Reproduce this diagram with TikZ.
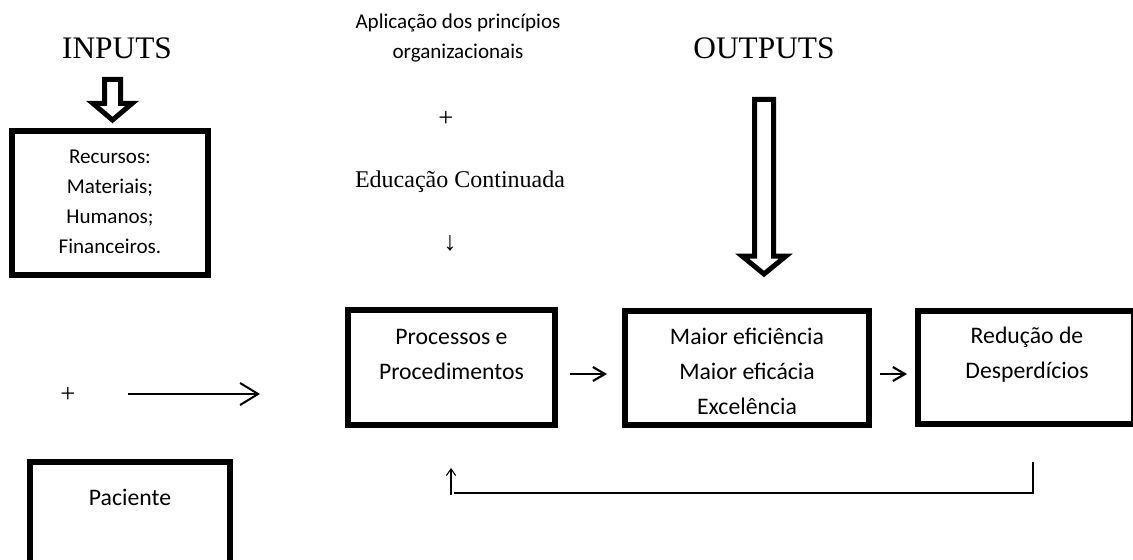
\documentclass[tikz,border=0pt]{standalone}
\usepackage{fontspec}
\setmainfont{Liberation Serif}
\setsansfont{Carlito}
\usetikzlibrary{arrows.meta,calc,positioning}

\tikzset{
  box/.style={draw, line width=4.5pt, inner sep=0pt},
  boxtext/.style={font={\sffamily\fontsize{17.8}{26.25}\selectfont}, align=center, inner sep=0pt},
  smalltext/.style={font={\sffamily\fontsize{15.8}{22.5}\selectfont}, align=center, inner sep=0pt},
  heading/.style={font={\fontsize{23.5}{28}\selectfont}, inner sep=0pt},
  serifnote/.style={font={\fontsize{18}{22}\selectfont}, inner sep=0pt},
  hollow/.style={draw, line width=3.75pt, line join=miter, fill=white},
  flow/.style={line width=1.6pt, -{Straight Barb[length=9pt, width=10.5pt, line width=1.6pt]}},
  longflow/.style={line width=1.5pt, -{Straight Barb[length=13.5pt, width=16.5pt, line width=1.5pt]}},
  fback/.style={line width=1.4pt},
  upflow/.style={line width=0.8pt, -{Straight Barb[length=5pt, width=7pt, line width=0.8pt]}}
}

\begin{document}
\begin{tikzpicture}[x=0.75pt, y=-0.75pt]
  \useasboundingbox (0,0) rectangle (1133,560);

  % Headings
  \node[heading] (inputs) at (117,48) {INPUTS};
  \node[heading] (outputs) at (764,48) {OUTPUTS};

  % Middle column
  \node[smalltext] (principios) at (458,38) {Aplicação dos princípios\\organizacionais};
  \node[serifnote, font={\fontsize{20}{24}\selectfont}] (plusa) at (446,119) {+};
  \node[serifnote] (educacao) at (460,182) {Educação Continuada};
  \node[serifnote, font={\fontsize{20}{24}\selectfont}] (seta) at (450,243) {↓};
  \node[serifnote, font={\fontsize{20}{24}\selectfont}] (plusb) at (68,395) {+};

  % Boxes
  \node[box, minimum width=147pt, minimum height=108pt] (recursos) at (110,203) {};
  \node[box, minimum width=150pt, minimum height=75.4pt] (paciente) at (130,512.25) {};
  \node[box, minimum width=155.25pt, minimum height=86.25pt] (proc) at (451.5,367.5) {};
  \node[box, minimum width=183pt, minimum height=85.5pt] (maior) at (747,368) {};
  \node[box, minimum width=162pt, minimum height=84.75pt] (reducao) at (1026,367.5) {};

  % Box texts
  \node[smalltext] (recursostxt) at (110,202) {Recursos:\\Materiais;\\Humanos;\\Financeiros.};
  \node[boxtext] (pacientetxt) at (130,497) {Paciente};
  \node[boxtext] (proctxt) at (451.5,354.5) {Processos e\\Procedimentos};
  \node[boxtext] (maiortxt) at (747,371) {Maior eficiência\\Maior eficácia\\Excelência};
  \node[boxtext] (reducaotxt) at (1027,354.5) {Redução de\\Desperdícios};

  % Hollow arrows
  \draw[hollow] (104.5,79.5) -- (120.5,79.5) -- (120.5,103.5) -- (132,103.5)
    -- (112.5,120) -- (93,103.5) -- (104.5,103.5) -- cycle;
  \draw[hollow] (754.5,99.5) -- (773.5,99.5) -- (773.5,256) -- (786,256)
    -- (764,274) -- (742,256) -- (754.5,256) -- cycle;

  % Flow between boxes
  \coordinate (pa) at (128,394);
  \coordinate (pb) at (260,394);
  \draw[longflow] (pa) -- (pb);
  \draw[flow, shorten <=9pt, shorten >=11.25pt] ($(proc.east)+(0,6.5)$) -- ($(maior.west)+(0,6)$);
  \draw[flow, shorten <=6pt, shorten >=6pt] ($(maior.east)+(0,6)$) -- ($(reducao.west)+(0,6.5)$);

  % Feedback
  \coordinate (fbstart) at (1033,462);
  \coordinate (fbend) at (454,493);
  \draw[fback] (fbstart) |- (fbend);
  \coordinate (fbup) at (451,495);
  \draw[upflow] (fbup) -- ++(0,-27);
\end{tikzpicture}
\end{document}
